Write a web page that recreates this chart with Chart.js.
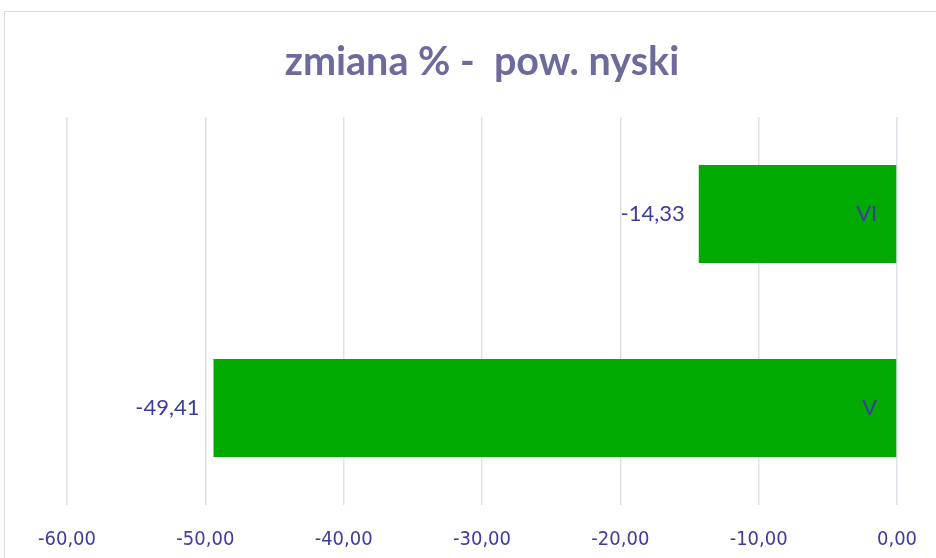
<!DOCTYPE html>
<html>
<head>
<meta charset="utf-8">
<script src="https://cdn.jsdelivr.net/npm/chart.js@4"></script>
<style>
body{margin:0;background:#fff;overflow:hidden}
#wrap{position:relative;width:936px;height:558px}
#frame{position:absolute;left:4px;top:11px;width:960px;height:600px;border:1px solid #d9dce3;box-sizing:border-box}
canvas{position:absolute;left:0;top:0}
</style>
</head>
<body>
<div id="wrap">
<div id="frame"></div>
<canvas id="chart" width="936" height="558"></canvas>
</div>
<script>
// dane
const categories = ["VI", "V"]
const values = [-14.33, -49.41]
const xMin = -60
const xMax = 0
const xStep = 10
const title = "zmiana % -  pow. nyski"

const textColor = "#3d3d9e"

function fmt(v){
  return v.toFixed(2).replace(".", ",")
}

const labelsPlugin = {
  id: "labels",
  afterDatasetsDraw(chart){
    const ctx = chart.ctx
    const meta = chart.getDatasetMeta(0)
    ctx.save()
    ctx.font = "22px Lato, sans-serif"
    ctx.fillStyle = textColor
    ctx.textBaseline = "middle"
    ctx.textAlign = "right"
    meta.data.forEach((bar, i) => {
      ctx.fillText(fmt(values[i]), bar.x - 14, bar.y)
      ctx.fillText(categories[i], bar.base - 19, bar.y)
    })
    // tytuł
    ctx.font = "bold 39.5px Lato, sans-serif"
    ctx.fillStyle = "#6c6b9c"
    ctx.textAlign = "center"
    const a = chart.chartArea
    ctx.fillText(title, (a.left + a.right) / 2, 62)
    ctx.restore()
  }
}

new Chart(
document.getElementById("chart"),
{
type: "bar",
data: {
  labels: categories,
  datasets: [
    {
      data: values,
      backgroundColor: "#00aa00",
      categoryPercentage: 1,
      barPercentage: 0.505
    }
  ]
},
options: {
  responsive: false,
  animation: false,
  indexAxis: "y",
  layout: {
    padding: { left: 67, right: 39, top: 117, bottom: 9 }
  },
  plugins: {
    legend: { display: false },
    tooltip: { enabled: false }
  },
  scales: {
    x: {
      min: xMin,
      max: xMax,
      afterFit: s => {
        s.height = 44
        s.paddingLeft = 0
        s.paddingRight = 0
      },
      ticks: {
        stepSize: xStep,
        padding: 23,
        color: textColor,
        font: { family: "'Liberation Sans Narrow', 'DejaVu Sans Condensed', sans-serif", size: 20 },
        callback: v => fmt(v)
      },
      grid: { color: "#dde1e8", lineWidth: 1.5, drawTicks: false },
      border: { display: false }
    },
    y: {
      display: false
    }
  }
},
plugins: [labelsPlugin]
}
)
</script>
</body>
</html>
